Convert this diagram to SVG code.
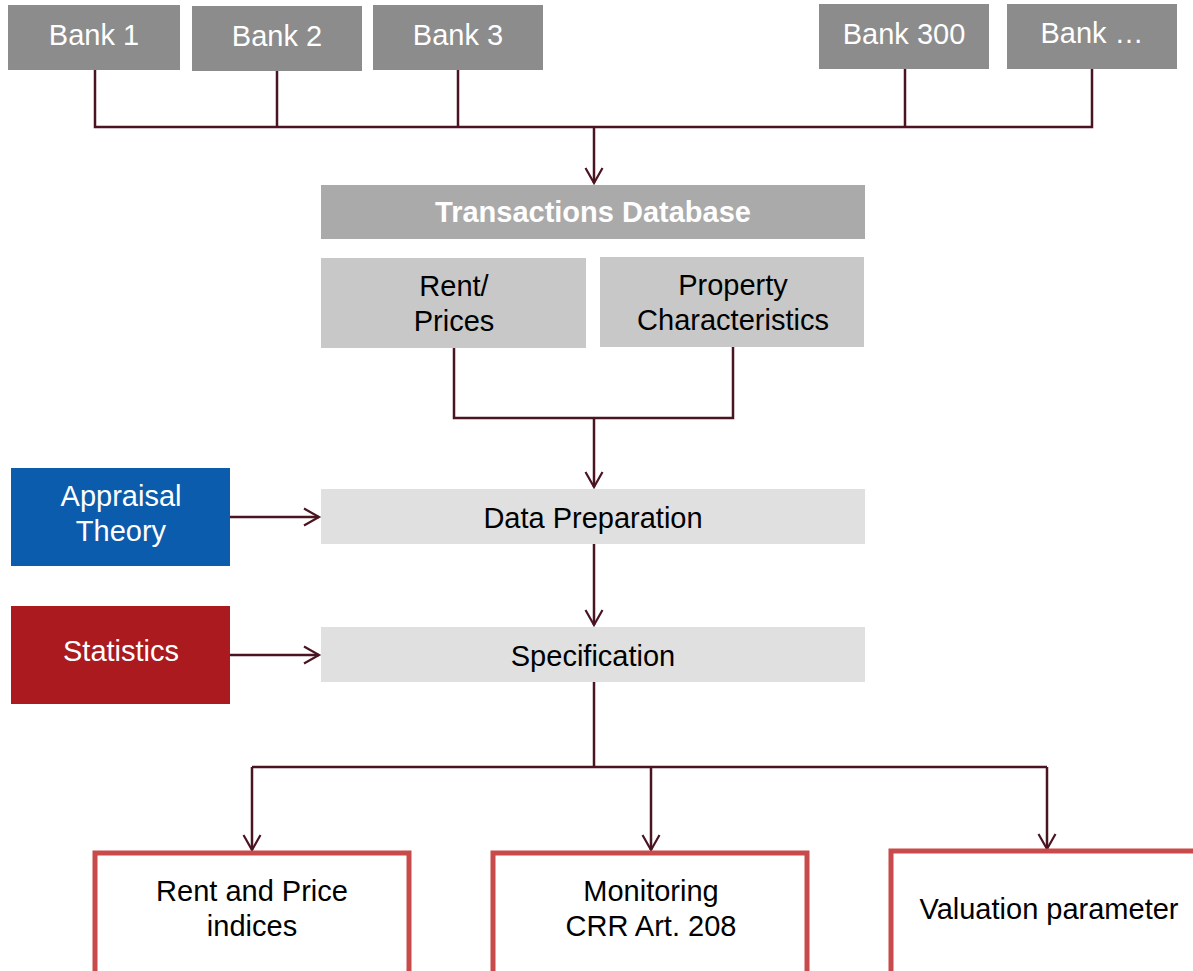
<svg xmlns="http://www.w3.org/2000/svg" width="1193" height="971" viewBox="0 0 1193 971">
<defs>
<marker id="arr" markerWidth="22" markerHeight="22" refX="16" refY="10" orient="auto" markerUnits="userSpaceOnUse">
<path d="M1,1.5 L16,10 L1,18.5" fill="none" stroke="#4a1422" stroke-width="2.2"/>
</marker>
<style>
.bank{fill:#8c8c8c}
.t{font-family:"Liberation Sans",Arial,sans-serif;font-size:29px;text-anchor:middle}
.w{fill:#ffffff}
.k{fill:#000000}
.c{fill:none;stroke:#4a1422;stroke-width:2.5}
.out{fill:#ffffff;stroke:#c84a4a;stroke-width:5}
</style>
</defs>
<rect width="1193" height="971" fill="#ffffff"/>
<g id="connectors">
<path class="c" d="M95,70 V127 H1092 V69 M277,71 V127 M458,70 V127 M905,69 V127"/>
<path class="c" d="M594,127 V183" marker-end="url(#arr)"/>
<path class="c" d="M454,348 V418 H733 V347"/>
<path class="c" d="M594,418 V487" marker-end="url(#arr)"/>
<path class="c" d="M594,544 V625" marker-end="url(#arr)"/>
<path class="c" d="M230,517 H319" marker-end="url(#arr)"/>
<path class="c" d="M230,655 H319" marker-end="url(#arr)"/>
<path class="c" d="M594,682 V767"/>
<path class="c" d="M252,767 H1047"/>
<path class="c" d="M252,767 V850" marker-end="url(#arr)"/>
<path class="c" d="M651,767 V850" marker-end="url(#arr)"/>
<path class="c" d="M1047,767 V849" marker-end="url(#arr)"/>
</g>
<g id="bank1"><rect class="bank" x="8" y="5" width="172" height="65"/><text class="t w" x="94" y="45">Bank 1</text></g>
<g id="bank2"><rect class="bank" x="192" y="6" width="170" height="65"/><text class="t w" x="277" y="46">Bank 2</text></g>
<g id="bank3"><rect class="bank" x="373" y="5" width="170" height="65"/><text class="t w" x="458" y="45">Bank 3</text></g>
<g id="bank300"><rect class="bank" x="819" y="4" width="170" height="65"/><text class="t w" x="904" y="44">Bank 300</text></g>
<g id="bankn"><rect class="bank" x="1007" y="4" width="170" height="65"/><text class="t w" x="1092" y="43">Bank …</text></g>
<g id="transactions"><rect x="321" y="185" width="544" height="54" fill="#aaaaaa"/><text class="t w" x="593" y="222" font-weight="bold">Transactions Database</text></g>
<g id="rentprices"><rect x="321" y="258" width="265" height="90" fill="#c8c8c8"/><text class="t k" x="454" y="296">Rent/</text><text class="t k" x="454" y="331">Prices</text></g>
<g id="property"><rect x="600" y="257" width="264" height="90" fill="#c8c8c8"/><text class="t k" x="733" y="295">Property</text><text class="t k" x="733" y="330">Characteristics</text></g>
<g id="dataprep"><rect x="321" y="489" width="544" height="55" fill="#e0e0e0"/><text class="t k" x="593" y="528">Data Preparation</text></g>
<g id="specification"><rect x="321" y="627" width="544" height="55" fill="#e0e0e0"/><text class="t k" x="593" y="666">Specification</text></g>
<g id="appraisal"><rect x="11" y="468" width="219" height="98" fill="#0b5cad"/><text class="t w" x="121" y="506">Appraisal</text><text class="t w" x="121" y="541">Theory</text></g>
<g id="statistics"><rect x="11" y="606" width="219" height="98" fill="#ab1a1f"/><text class="t w" x="121" y="661">Statistics</text></g>
<g id="indices"><rect class="out" x="95" y="853" width="314" height="130"/><text class="t k" x="252" y="901">Rent and Price</text><text class="t k" x="252" y="936">indices</text></g>
<g id="monitoring"><rect class="out" x="493" y="853" width="314" height="130"/><text class="t k" x="651" y="901">Monitoring</text><text class="t k" x="651" y="936">CRR Art. 208</text></g>
<g id="valuation"><rect class="out" x="891" y="851" width="320" height="130"/><text class="t k" x="1049" y="919">Valuation parameter</text></g>
</svg>
